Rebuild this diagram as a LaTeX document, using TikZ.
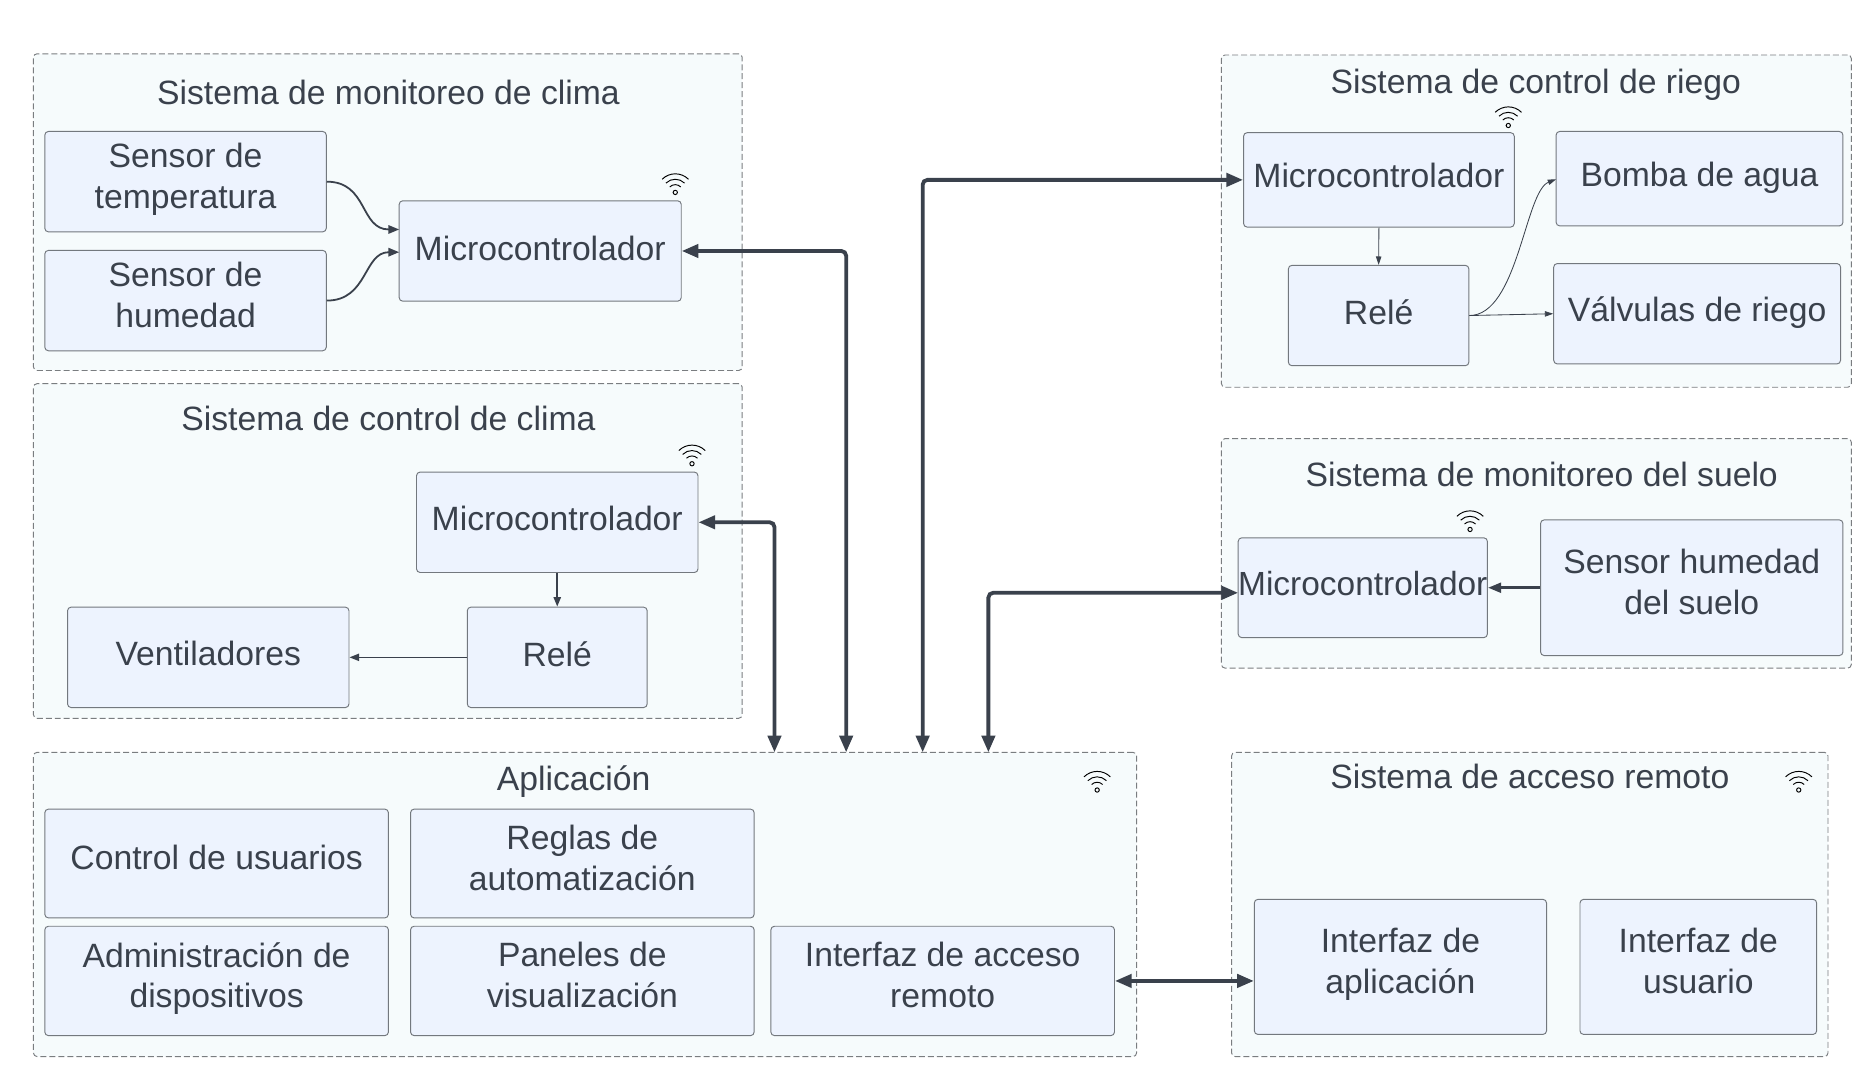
\documentclass[tikz,border=0pt]{standalone}
\usepackage{fontspec}
\setmainfont{Liberation Sans}
\usetikzlibrary{arrows.meta}

\definecolor{groupfill}{HTML}{F6FBFC}
\definecolor{groupline}{HTML}{7A7D80}
\definecolor{boxfill}{HTML}{EDF3FE}
\definecolor{boxline}{HTML}{73787E}
\definecolor{ink}{HTML}{3A414C}

\tikzset{
  group/.style={draw=groupline,fill=groupfill,dash pattern=on 5pt off 2.5pt,line width=0.8pt,rounded corners=3pt,inner sep=0pt},
  unit/.style={draw=boxline,fill=boxfill,line width=0.8pt,rounded corners=3pt,inner sep=0pt,align=center,text=ink,
    text depth=10pt,font=\fontsize{28.2}{34}\selectfont},
  grouptitle/.style={text=ink,inner sep=0pt,font=\fontsize{28.2}{34}\selectfont},
  bus/.style={draw=ink,line width=3.2pt,rounded corners=4pt,{Triangle[length=14pt,width=11pt]}-{Triangle[length=14pt,width=11pt]}},
  link/.style={draw=ink,line width=1.6pt,-{Triangle[length=8pt,width=6pt]}},
  wire/.style={draw=ink,line width=0.7pt,-{Triangle[length=7pt,width=4.5pt]}},
  wifi/.pic={
    \draw[black,line width=0.8pt] (0,0) circle (1.8);
    \draw[black,line width=0.8pt] (-4.6,-4.6) arc[start angle=-135,end angle=-45,radius=6.5];
    \draw[black,line width=0.8pt] (-7.8,-7.8) arc[start angle=-135,end angle=-45,radius=11];
    \draw[black,line width=0.8pt] (-11,-11) arc[start angle=-135,end angle=-45,radius=15.6];
  }
}

\begin{document}
\begin{tikzpicture}[x=1pt,y=-1pt]

\useasboundingbox (0,0) rectangle (1568,903);

\node[group,minimum width=593,minimum height=265] (climaMon) at (324.5,177.5) {};
\node[group,minimum width=593,minimum height=280] (climaCtl) at (324.5,461) {};
\node[group,minimum width=923,minimum height=254.5] (app) at (489.5,756.75) {};
\node[group,minimum width=499,minimum height=254.5] (remoto) at (1280,756.75) {};
\node[group,minimum width=527,minimum height=278] (riego) at (1285.5,185) {};
\node[group,minimum width=527,minimum height=192] (suelo) at (1285.5,463) {};

\node[grouptitle] (t1) at (325,77) {Sistema de monitoreo de clima};
\node[grouptitle] (t2) at (325,350) {Sistema de control de clima};
\node[grouptitle] (t3) at (480,654) {Aplicación};
\node[grouptitle] (t4) at (1280,650) {Sistema de acceso remoto};
\node[grouptitle] (t5) at (1285,71) {Sistema de control de riego};
\node[grouptitle] (t6) at (1290,397) {Sistema de monitoreo del suelo};

\node[unit,minimum width=235.5,minimum height=84] (sTemp) at (155.25,152) {Sensor de\\temperatura};
\node[unit,minimum width=235.5,minimum height=84] (sHum) at (155.25,251.5) {Sensor de\\humedad};
\node[unit,minimum width=236,minimum height=84,text depth=5pt] (mc1) at (452,210) {Microcontrolador};

\node[unit,minimum width=235.5,minimum height=84,text depth=6pt] (mc2) at (466.25,437) {Microcontrolador};
\node[unit,minimum width=235.5,minimum height=84,text depth=6pt] (vent) at (174.25,550) {Ventiladores};
\node[unit,minimum width=150.5,minimum height=84,text depth=6pt] (rele2) at (466.25,550) {Relé};

\node[unit,minimum width=287.5,minimum height=91] (ctrl) at (181.25,722.5) {Control de usuarios};
\node[unit,minimum width=287.5,minimum height=91] (reglas) at (487.25,722.5) {Reglas de\\automatización};
\node[unit,minimum width=287.5,minimum height=91.5] (admin) at (181.25,820.75) {Administración de\\dispositivos};
\node[unit,minimum width=287.5,minimum height=91.5] (paneles) at (487.25,820.75) {Paneles de\\visualización};
\node[unit,minimum width=287.5,minimum height=91.5] (acceso) at (788.75,820.75) {Interfaz de acceso\\remoto};

\node[unit,minimum width=244.5,minimum height=113] (iApp) at (1171.75,809) {Interfaz de\\aplicación};
\node[unit,minimum width=198,minimum height=113] (iUsu) at (1421,809) {Interfaz de\\usuario};

\node[unit,minimum width=226.5,minimum height=79,text depth=8pt] (mc3) at (1153.75,150.5) {Microcontrolador};
\node[unit,minimum width=240,minimum height=79,text depth=8pt] (bomba) at (1422,149.5) {Bomba de agua};
\node[unit,minimum width=151,minimum height=84,text depth=6pt] (rele3) at (1153.5,264) {Relé};
\node[unit,minimum width=240,minimum height=84,text depth=8pt] (valv) at (1420,262.5) {Válvulas de riego};

\node[unit,minimum width=208.5,minimum height=83.5,text depth=8pt,font=\fontsize{28}{34}\selectfont] (mc4) at (1140.25,491.75) {Microcontrolador};
\node[unit,minimum width=253,minimum height=113.5] (sSuelo) at (1415.5,491.75) {Sensor humedad\\del suelo};

\pic at (565,161) {wifi};
\pic at (579,388) {wifi};
\pic at (918,661) {wifi};
\pic at (1505,661) {wifi};
\pic at (1262,105) {wifi};
\pic at (1230,443) {wifi};

\coordinate (A1) at (648,629.5);
\coordinate (A2) at (708,629.5);
\coordinate (A3) at (772,629.5);
\coordinate (A4) at (827,629.5);
\coordinate (M4) at (1036,496);

\draw[bus] (mc1.east) -| (A2);
\draw[bus] (mc2.east) -| (A1);
\draw[bus] (mc3.west) -| (A3);
\draw[bus] (M4) -| (A4);
\draw[bus,rounded corners=0pt] (acceso.east) -- (acceso.east -| iApp.west);

\draw[link,line width=2.6pt,-{Triangle[length=11pt,width=8pt]}] (sSuelo.west) -- (mc4.east);
\draw[link] (mc2.south) -- (rele2.north);
\draw[link,line width=1.3pt] (rele2.west |- vent.east) -- (vent.east);

\coordinate (M1a) at (334,192);
\coordinate (M1b) at (334,211);
\draw[draw=ink,line width=1.5pt,-{Triangle[length=9pt,width=7pt]}] (sTemp.east) .. controls (308,152) and (301,192) .. (M1a);
\draw[draw=ink,line width=1.5pt,-{Triangle[length=9pt,width=7pt]}] (sHum.east) .. controls (308,251.5) and (304,211) .. (M1b);

\coordinate (B1) at (1302,150);
\draw[wire] (mc3.south) -- (rele3.north);
\draw[wire] (rele3.east) .. controls (1270,264) and (1276,160) .. (B1);
\draw[wire] (rele3.east) -- (valv.west);

\end{tikzpicture}
\end{document}
